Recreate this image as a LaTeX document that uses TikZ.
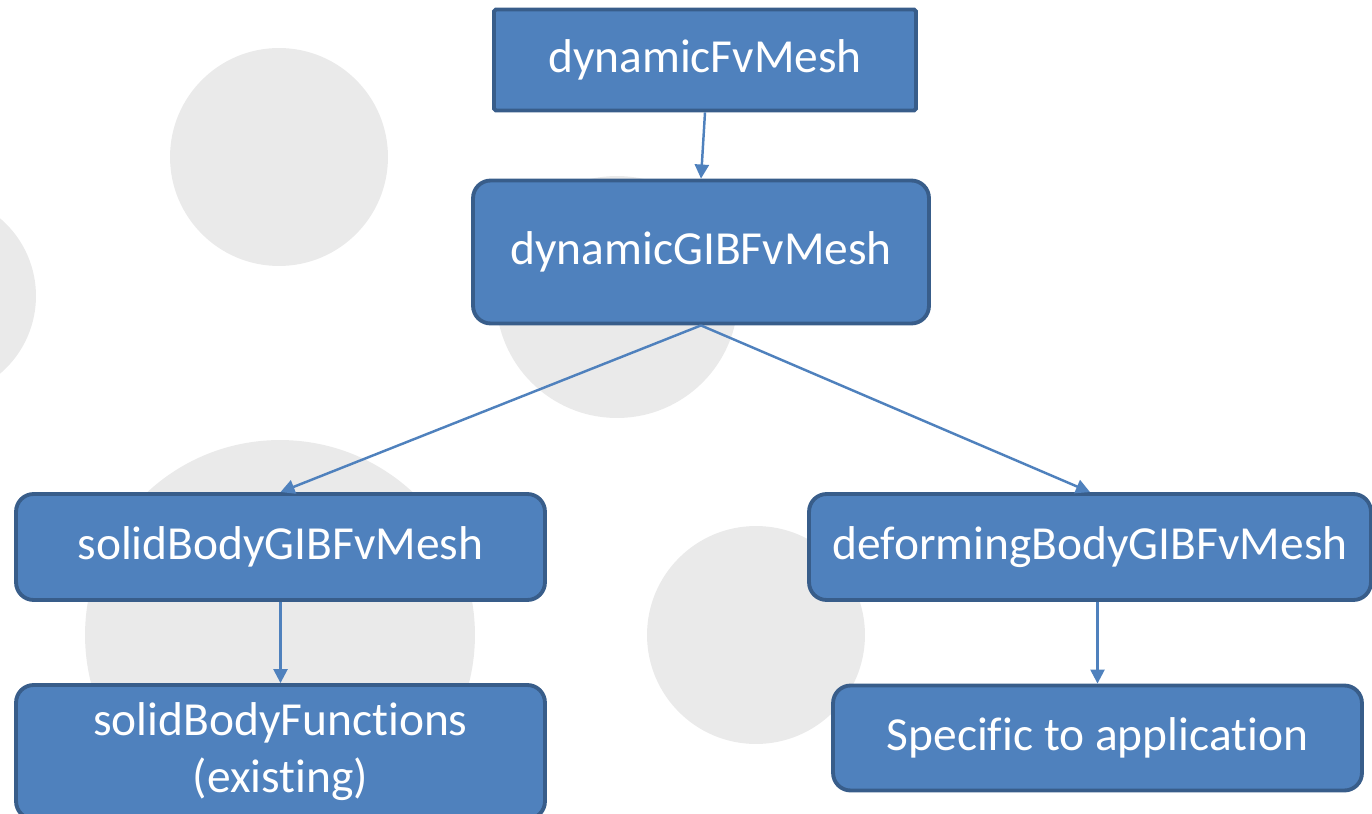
\documentclass[tikz,border=0pt]{standalone}
\usepackage{fontspec}
\setmainfont{Carlito}[Ligatures=NoCommon]
\usepackage{xcolor}
\usetikzlibrary{
    arrows.meta,
    positioning
}

\definecolor{boxfill}{HTML}{4F81BD}
\definecolor{boxline}{HTML}{385D8A}
\definecolor{dotgray}{HTML}{EAEAEA}

\begin{document}
\begin{tikzpicture}[
    x=0.02cm, y=-0.02cm,
    font=\fontsize{27}{32.5}\selectfont,
    box/.style={
        rectangle,
        rounded corners=10pt,
        draw=boxline,
        line width=2.2pt,
        fill=boxfill,
        text=white,
        align=center,
        inner sep=2pt
    },
    arrow/.style={
        -{Triangle[length=8pt,width=8pt]},
        line width=1.4pt,
        draw=boxfill
    },
    dot/.style={
        fill=dotgray
    }
]

\useasboundingbox (0,0) rectangle (1372,814);

% =========================================================
% Background dots
% =========================================================
\fill[dot] (279,157) circle[radius=2.18cm];
\fill[dot] (-66,296) circle[radius=2.04cm];
\fill[dot] (617,297) circle[radius=2.42cm];
\fill[dot] (280,635) circle[radius=3.9cm];
\fill[dot] (756,635) circle[radius=2.18cm];

% =========================================================
% Mesh classes
% =========================================================
\node[box, rounded corners=1pt, minimum width=8.44cm, minimum height=2.02cm] (fvmesh) at (705,60)
{dynamicFvMesh};

\node[box, minimum width=9.12cm, minimum height=2.86cm] (gibmesh) at (701,252)
{dynamicGIBFvMesh};

\node[box, minimum width=10.58cm, minimum height=2.12cm] (solidmesh) at (280.5,547)
{solidBodyGIBFvMesh};

\node[box, minimum width=11.24cm, minimum height=2.12cm] (deformmesh) at (1090,547)
{deformingBodyGIBFvMesh};

% =========================================================
% Motion functions
% =========================================================
\node[box, minimum width=10.58cm, minimum height=2.68cm] (solidfuncs) at (280.5,752)
{solidBodyFunctions\\(existing)};

\node[box, minimum width=10.58cm, minimum height=2.1cm] (appfuncs) at (1097.5,738)
{Specific to application};

% =========================================================
% Arrows
% =========================================================
\draw[arrow] (fvmesh.south) -- (gibmesh.north);
\draw[arrow] (gibmesh.south) -- (solidmesh.north);
\draw[arrow] (gibmesh.south) -- (deformmesh.north);
\draw[arrow] (solidmesh.south) -- (solidfuncs.north);
\draw[arrow] (deformmesh.south -| appfuncs.north) -- (appfuncs.north);

\end{tikzpicture}
\end{document}
